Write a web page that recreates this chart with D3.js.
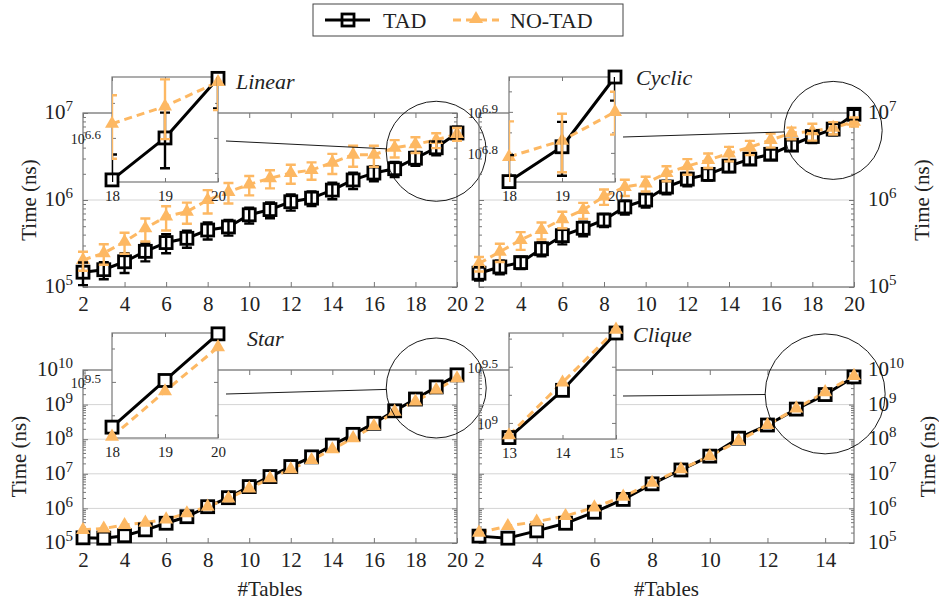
<!DOCTYPE html>
<html>
<head>
<meta charset="utf-8">
<script src="https://cdn.jsdelivr.net/npm/d3@7"></script>
<style>
  body { margin: 0; background: #fff; }
  svg text { font-family: "Liberation Serif", "Times New Roman", Tinos, "DejaVu Serif", serif !important; fill: #222; }
</style>
</head>
<body>
<div id="chart"></div>
<script>

//// DATA ////

var tables20 = [2, 3, 4, 5, 6, 7, 8, 9, 10, 11, 12, 13, 14, 15, 16, 17, 18, 19, 20];
var tables15 = [2, 3, 4, 5, 6, 7, 8, 9, 10, 11, 12, 13, 14, 15];
var xTicks20 = [2, 4, 6, 8, 10, 12, 14, 16, 18, 20];
var xTicks15 = [2, 4, 6, 8, 10, 12, 14];

// Linear
var linearTad = [1.48e5, 1.58e5, 1.95e5, 2.57e5, 3.24e5, 3.63e5, 4.52e5, 4.90e5, 6.76e5, 7.76e5,
  9.55e5, 1.05e6, 1.30e6, 1.70e6, 2.04e6, 2.29e6, 3.02e6, 3.98e6, 5.89e6];
var linearTadErr = [0.43e5, 0.35e5, 0.5e5, 0.6e5, 0.8e5, 0.8e5, 1.0e5, 1.0e5, 1.4e5, 1.6e5,
  2.0e5, 2.0e5, 2.8e5, 3.6e5, 4.0e5, 4.5e5, 5.5e5, 7.2e5, 1.06e6];
var linearNo = [2.04e5, 2.45e5, 3.31e5, 4.73e5, 6.46e5, 7.33e5, 1.00e6, 1.24e6, 1.51e6, 1.78e6,
  2.04e6, 2.21e6, 2.69e6, 3.31e6, 3.31e6, 3.98e6, 4.37e6, 4.90e6, 5.75e6];
var linearNoErr = [0.5e5, 0.65e5, 0.9e5, 1.4e5, 2.0e5, 2.0e5, 3.0e5, 3.3e5, 3.8e5, 4.2e5,
  5.0e5, 5.0e5, 7.0e5, 9.0e5, 9.0e5, 9.0e5, 9.0e5, 9.5e5, 9.7e5];

// Cyclic
var cyclicTad = [1.44e5, 1.70e5, 1.91e5, 2.75e5, 3.89e5, 4.73e5, 5.89e5, 8.32e5, 1.00e6, 1.41e6,
  1.74e6, 1.97e6, 2.45e6, 2.95e6, 3.35e6, 4.27e6, 5.37e6, 6.53e6, 9.66e6];
var cyclicTadErr = [0.25e5, 0.3e5, 0.3e5, 0.5e5, 0.8e5, 0.9e5, 1.0e5, 1.5e5, 1.8e5, 2.5e5,
  3.0e5, 3.0e5, 3.5e5, 4.0e5, 4.5e5, 6.0e5, 8.6e5, 9.8e5, 1.2e6];
var cyclicNo = [1.86e5, 2.54e5, 3.47e5, 4.52e5, 6.03e5, 7.67e5, 1.10e6, 1.41e6, 1.55e6, 2.04e6,
  2.45e6, 2.88e6, 3.43e6, 4.03e6, 4.90e6, 5.89e6, 6.17e6, 6.76e6, 7.94e6];
var cyclicNoErr = [0.35e5, 0.6e5, 0.8e5, 1.0e5, 1.3e5, 1.6e5, 2.2e5, 3.0e5, 3.0e5, 4.0e5,
  5.0e5, 5.5e5, 6.5e5, 7.5e5, 9.0e5, 9.0e5, 1.36e6, 1.1e6, 0.95e6];

// Star
var starTad = [1.41e5, 1.38e5, 1.62e5, 2.40e5, 3.72e5, 5.75e5, 1.12e6, 2.04e6, 4.27e6, 8.32e6,
  1.62e7, 3.09e7, 6.76e7, 1.38e8, 2.88e8, 6.61e8, 1.45e9, 3.24e9, 7.24e9];
var starNo = [2.40e5, 2.63e5, 3.31e5, 3.89e5, 4.79e5, 7.24e5, 1.12e6, 1.95e6, 3.80e6, 7.41e6,
  1.35e7, 2.51e7, 5.13e7, 1.07e8, 2.40e8, 6.24e8, 1.23e9, 2.69e9, 5.75e9];

// Clique
var cliqueTad = [1.58e5, 1.38e5, 2.24e5, 3.72e5, 7.76e5, 1.82e6, 5.13e6, 1.29e7, 3.24e7, 1.07e8,
  2.57e8, 7.41e8, 1.95e9, 6.31e9];
var cliqueNo = [2.00e5, 3.09e5, 4.17e5, 6.03e5, 1.07e6, 2.19e6, 5.50e6, 1.35e7, 3.24e7, 8.91e7,
  2.57e8, 7.76e8, 2.29e9, 6.76e9];

//// SET UP ////

var ORANGE = "#fdb863";
var FRAME = "#777";

var svg = d3.select("#chart")
  .append("svg")
  .attr("width", 939)
  .attr("height", 606);

var panels = [
  { id: "linear", title: "Linear", xs: tables20, xTicks: xTicks20, xDomain: [2, 20],
    tad: linearTad, tadErr: linearTadErr, no: linearNo, noErr: linearNoErr,
    left: 83, right: 457, top: 113, bottom: 287, yDomain: [1e5, 1e7], side: "left",
    titlePos: [236, 89], yLabelX: 36, xLabel: false,
    inset: { left: 112, right: 218, top: 77, bottom: 182, xDomain: [18, 20],
      yDomain: [Math.pow(10, 6.474), Math.pow(10, 6.774)], major: [6.6], minor: [6.5, 6.7] },
    spy: { x: 19, v: Math.pow(10, 6.56), r: 50 }, link: [226, 141] },
  { id: "cyclic", title: "Cyclic", xs: tables20, xTicks: xTicks20, xDomain: [2, 20],
    tad: cyclicTad, tadErr: cyclicTadErr, no: cyclicNo, noErr: cyclicNoErr,
    left: 479, right: 854, top: 113, bottom: 287, yDomain: [1e5, 1e7], side: "right",
    titlePos: [636, 85], yLabelX: 929, xLabel: false,
    inset: { left: 509, right: 615, top: 77, bottom: 182, xDomain: [18, 20],
      yDomain: [Math.pow(10, 6.729), Math.pow(10, 6.985)], major: [6.8, 6.9], minor: [6.75, 6.85, 6.95] },
    spy: { x: 19, v: Math.pow(10, 6.80), r: 49 }, link: [623, 137] },
  { id: "star", title: "Star", xs: tables20, xTicks: xTicks20, xDomain: [2, 20],
    tad: starTad, tadErr: null, no: starNo, noErr: null,
    left: 83, right: 457, top: 370, bottom: 543, yDomain: [1e5, 1e10], side: "left",
    titlePos: [247, 346], yLabelX: 26, xLabel: true,
    inset: { left: 112, right: 218, top: 333, bottom: 438, xDomain: [18, 20],
      yDomain: [Math.pow(10, 9.08), Math.pow(10, 9.866)], major: [9.5], minor: [9.25, 9.75] },
    spy: { x: 19, v: Math.pow(10, 9.48), r: 50 }, link: [226, 394] },
  { id: "clique", title: "Clique", xs: tables15, xTicks: xTicks15, xDomain: [2, 15],
    tad: cliqueTad, tadErr: null, no: cliqueNo, noErr: null,
    left: 479, right: 854, top: 370, bottom: 543, yDomain: [1e5, 1e10], side: "right",
    titlePos: [633, 342], yLabelX: 935, xLabel: true,
    inset: { left: 509, right: 616, top: 333, bottom: 439, xDomain: [13, 15],
      yDomain: [Math.pow(10, 8.857), Math.pow(10, 9.80)], major: [9, 9.5], minor: [9.25, 9.75] },
    spy: { x: 14, v: Math.pow(10, 9.31), r: 60 }, link: [623, 396] }
];

//// HELPERS ////

function toPoints(xs, vals, errs) {
  return xs.map(function(d, i) {
    return { x: d, v: vals[i], e: errs ? errs[i] : 0 };
  });
}

function minorTicks(domain) {
  var lo = Math.round(Math.log10(domain[0]));
  var hi = Math.round(Math.log10(domain[1]));
  var out = [];
  for (var k = lo; k < hi; k++) {
    for (var m = 2; m <= 9; m++) out.push(m * Math.pow(10, k));
  }
  return out;
}

function decades(domain) {
  var lo = Math.round(Math.log10(domain[0]));
  var hi = Math.round(Math.log10(domain[1]));
  return d3.range(lo, hi + 1).map(function(k) { return Math.pow(10, k); });
}

// d3 axes put their own font on the group, take it back off
function styleAxis(sel) {
  sel.attr("font-family", null).attr("font-size", null);
  sel.select(".domain").remove();
  sel.selectAll(".tick line").attr("stroke", FRAME).attr("stroke-width", 1);
  return sel;
}

function drawSeries(g, x, y, tadPts, noPts, clipId) {
  var line = d3.line().x(function(d) { return x(d.x); }).y(function(d) { return y(d.v); });

  g.append("path").datum(tadPts)
    .attr("d", line).attr("fill", "none")
    .attr("stroke", "#000").attr("stroke-width", 3).attr("stroke-linejoin", "round");

  g.append("path").datum(noPts)
    .attr("d", line).attr("fill", "none")
    .attr("stroke", ORANGE).attr("stroke-width", 3).attr("stroke-dasharray", "8,5");

  g.selectAll(null).data(tadPts).enter().append("rect")
    .attr("x", function(d) { return x(d.x) - 6; })
    .attr("y", function(d) { return y(d.v) - 6; })
    .attr("width", 12).attr("height", 12)
    .attr("fill", "#fff").attr("stroke", "#000").attr("stroke-width", 2.8);

  g.selectAll(null).data(noPts).enter().append("path")
    .attr("transform", function(d) { return "translate(" + x(d.x) + "," + y(d.v) + ")"; })
    .attr("d", d3.symbol(d3.symbolTriangle, 85))
    .attr("fill", ORANGE);

  // error bars on top
  var eg = g.append("g");
  if (clipId) eg.attr("clip-path", "url(#" + clipId + ")");
  [[tadPts, "#000"], [noPts, ORANGE]].forEach(function(s) {
    var pts = s[0].filter(function(d) { return d.e > 0; });
    eg.selectAll(null).data(pts).enter().append("path")
      .attr("d", function(d) {
        var cx = x(d.x), y1 = y(d.v + d.e), y0 = y(d.v - d.e);
        return "M" + cx + "," + y0 + "V" + y1 +
          "M" + (cx - 5) + "," + y1 + "H" + (cx + 5) +
          "M" + (cx - 5) + "," + y0 + "H" + (cx + 5);
      })
      .attr("fill", "none").attr("stroke", s[1]).attr("stroke-width", 2.4);
  });
}

function powLabel(sel, base, sup, baseSize, supSize, rise) {
  sel.text(null);
  sel.append("tspan").attr("font-size", baseSize).text(base);
  sel.append("tspan").attr("font-size", supSize).attr("dy", -rise).text(sup);
}

//// PANELS ////

panels.forEach(function(p) {
  var g = svg.append("g").attr("class", "panel-" + p.id);

  var x = d3.scaleLinear().domain(p.xDomain).range([p.left, p.right]);
  var y = d3.scaleLog().domain(p.yDomain).range([p.bottom, p.top]);

  // grid at decades
  g.selectAll(null).data(decades(p.yDomain)).enter().append("line")
    .attr("x1", p.left).attr("x2", p.right)
    .attr("y1", function(d) { return y(d); }).attr("y2", function(d) { return y(d); })
    .attr("stroke", "#d4d4d4").attr("stroke-width", 1);

  // x axes bottom & top
  var bottomAxis = styleAxis(g.append("g")
    .attr("transform", "translate(0," + p.bottom + ")")
    .call(d3.axisBottom(x).tickValues(p.xTicks).tickSize(-5).tickPadding(9).tickFormat(d3.format("d"))));
  bottomAxis.selectAll("text").attr("font-size", 21).attr("fill", "#222");

  styleAxis(g.append("g")
    .attr("transform", "translate(0," + p.top + ")")
    .call(d3.axisTop(x).tickValues(p.xTicks).tickSize(-5).tickFormat("")));

  // y axes (labelled side + mirrored side)
  var leftX = p.left, rightX = p.right;
  var labelAxis = p.side === "left" ? d3.axisLeft(y) : d3.axisRight(y);
  var otherAxis = p.side === "left" ? d3.axisRight(y) : d3.axisLeft(y);

  var yMain = styleAxis(g.append("g")
    .attr("transform", "translate(" + (p.side === "left" ? leftX : rightX) + ",0)")
    .call(labelAxis.tickValues(decades(p.yDomain)).tickSize(-5).tickPadding(p.side === "left" ? 10 : 14)));
  yMain.selectAll(".tick text")
    .attr("fill", "#222").attr("dy", "0.35em")
    .each(function(d) {
      powLabel(d3.select(this), "10", Math.round(Math.log10(d)), 21, 15, 8);
    });

  styleAxis(g.append("g")
    .attr("transform", "translate(" + (p.side === "left" ? rightX : leftX) + ",0)")
    .call(otherAxis.tickValues(decades(p.yDomain)).tickSize(-5).tickFormat("")));

  [[leftX, d3.axisLeft], [rightX, d3.axisRight]].forEach(function(a) {
    styleAxis(g.append("g")
      .attr("transform", "translate(" + a[0] + ",0)")
      .call(a[1](y).tickValues(minorTicks(p.yDomain)).tickSize(-3).tickFormat("")));
  });

  // frame
  g.append("rect")
    .attr("x", p.left).attr("y", p.top)
    .attr("width", p.right - p.left).attr("height", p.bottom - p.top)
    .attr("fill", "none").attr("stroke", FRAME).attr("stroke-width", 1.2);

  // data
  var tadPts = toPoints(p.xs, p.tad, p.tadErr);
  var noPts = toPoints(p.xs, p.no, p.noErr);
  drawSeries(g, x, y, tadPts, noPts, null);

  // y label
  g.append("text")
    .attr("transform", "translate(" + p.yLabelX + "," + ((p.top + p.bottom) / 2) + ") rotate(-90)")
    .attr("text-anchor", "middle")
    .attr("font-size", 21)
    .text("Time (ns)");

  if (p.xLabel) {
    g.append("text")
      .attr("x", (p.left + p.right) / 2).attr("y", 596)
      .attr("text-anchor", "middle").attr("font-size", 21)
      .text("#Tables");
  }

  // spy circle + connector
  var cx = x(p.spy.x), cy = y(p.spy.v);
  var dx = p.link[0] - cx, dy = p.link[1] - cy, len = Math.sqrt(dx * dx + dy * dy);
  g.append("line")
    .attr("x1", p.link[0]).attr("y1", p.link[1])
    .attr("x2", cx + dx / len * p.spy.r).attr("y2", cy + dy / len * p.spy.r)
    .attr("stroke", "#000").attr("stroke-width", 0.9);
  g.append("circle")
    .attr("cx", cx).attr("cy", cy).attr("r", p.spy.r)
    .attr("fill", "none").attr("stroke", "#000").attr("stroke-width", 0.9);

  // inset
  var s = p.inset;
  var ix = d3.scaleLinear().domain(s.xDomain).range([s.left, s.right]);
  var iy = d3.scaleLog().domain(s.yDomain).range([s.bottom, s.top]);
  var ig = g.append("g").attr("class", "inset");
  var clipId = "clip-" + p.id;

  svg.append("defs").append("clipPath").attr("id", clipId)
    .append("rect")
    .attr("x", s.left).attr("y", s.top)
    .attr("width", s.right - s.left).attr("height", s.bottom - s.top);

  ig.append("rect")
    .attr("x", s.left).attr("y", s.top)
    .attr("width", s.right - s.left).attr("height", s.bottom - s.top)
    .attr("fill", "#fff");

  var iTicksX = d3.range(s.xDomain[0], s.xDomain[1] + 1);
  var ib = styleAxis(ig.append("g").attr("transform", "translate(0," + s.bottom + ")")
    .call(d3.axisBottom(ix).tickValues(iTicksX).tickSize(-4).tickPadding(8).tickFormat(d3.format("d"))));
  ib.selectAll("text").attr("font-size", 15).attr("fill", "#222");
  styleAxis(ig.append("g").attr("transform", "translate(0," + s.top + ")")
    .call(d3.axisTop(ix).tickValues(iTicksX).tickSize(-4).tickFormat("")));

  var majorV = s.major.map(function(e) { return Math.pow(10, e); });
  var minorV = s.minor.map(function(e) { return Math.pow(10, e); });
  var il = styleAxis(ig.append("g").attr("transform", "translate(" + s.left + ",0)")
    .call(d3.axisLeft(iy).tickValues(majorV).tickSize(-4).tickPadding(11)));
  il.selectAll(".tick text").attr("fill", "#222").attr("dy", "0.35em")
    .each(function(d, i) {
      powLabel(d3.select(this), "10", String(s.major[i]), 14, 13, 5);
    });
  styleAxis(ig.append("g").attr("transform", "translate(" + s.right + ",0)")
    .call(d3.axisRight(iy).tickValues(majorV).tickSize(-4).tickFormat("")));
  [[s.left, d3.axisLeft], [s.right, d3.axisRight]].forEach(function(a) {
    styleAxis(ig.append("g").attr("transform", "translate(" + a[0] + ",0)")
      .call(a[1](iy).tickValues(minorV).tickSize(-3).tickFormat("")));
  });

  ig.append("rect")
    .attr("x", s.left).attr("y", s.top)
    .attr("width", s.right - s.left).attr("height", s.bottom - s.top)
    .attr("fill", "none").attr("stroke", FRAME).attr("stroke-width", 1.2);

  var inRange = function(d) { return d.x >= s.xDomain[0] && d.x <= s.xDomain[1]; };
  drawSeries(ig, ix, iy, tadPts.filter(inRange), noPts.filter(inRange), clipId);

  // title
  g.append("text")
    .attr("x", p.titlePos[0]).attr("y", p.titlePos[1])
    .attr("font-size", 22).attr("font-style", "italic")
    .text(p.title);
});

//// LEGEND ////

var legend = svg.append("g").attr("class", "legend");
legend.append("rect")
  .attr("x", 313).attr("y", 4).attr("width", 310).attr("height", 32)
  .attr("fill", "#fff").attr("stroke", "#444").attr("stroke-width", 1);

legend.append("rect")
  .attr("x", 342).attr("y", 14).attr("width", 12).attr("height", 12)
  .attr("fill", "#fff").attr("stroke", "#000").attr("stroke-width", 2.8);
legend.append("line")
  .attr("x1", 325).attr("x2", 370).attr("y1", 20).attr("y2", 20)
  .attr("stroke", "#000").attr("stroke-width", 3);
legend.append("text").attr("x", 383).attr("y", 28).attr("font-size", 22).text("TAD");

legend.append("line")
  .attr("x1", 453).attr("x2", 499).attr("y1", 20).attr("y2", 20)
  .attr("stroke", ORANGE).attr("stroke-width", 3).attr("stroke-dasharray", "8,5");
legend.append("path")
  .attr("transform", "translate(476,19)")
  .attr("d", d3.symbol(d3.symbolTriangle, 85))
  .attr("fill", ORANGE);
legend.append("text").attr("x", 510).attr("y", 28).attr("font-size", 22).text("NO-TAD");

</script>
</body>
</html>
